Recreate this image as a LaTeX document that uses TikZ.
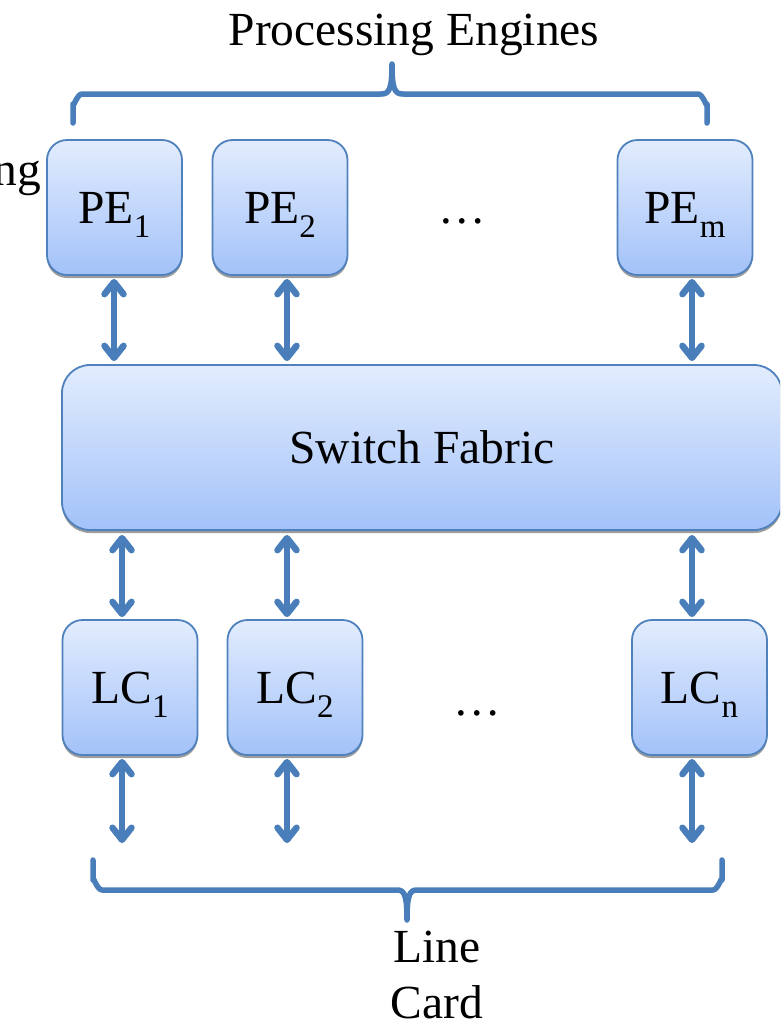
\documentclass[tikz,border=0pt]{standalone}
\usepackage{fontspec}
\setmainfont{Liberation Serif}
\usetikzlibrary{arrows.meta,shadows}
\definecolor{boxline}{RGB}{79,129,189}
\definecolor{boxtop}{RGB}{226,236,253}
\definecolor{boxbot}{RGB}{163,194,249}
\definecolor{arrowc}{RGB}{74,126,187}
\newcommand{\lowsub}[1]{\raisebox{-14pt}{\fontsize{33}{33}\selectfont #1}}
\tikzset{
  blk/.style={draw=boxline, line width=1.8pt, rounded corners=20pt,
    top color=boxtop, bottom color=boxbot,
    minimum width=135pt, minimum height=135pt, inner sep=0pt,
    text height=31pt, text depth=0pt,
    font=\fontsize{47.5}{55}\selectfont,
    drop shadow={shadow xshift=0pt, shadow yshift=-3pt, fill=black!55, opacity=0.7}},
  biarrow/.style={draw=arrowc, line width=6.5pt,
    {Straight Barb[length=12pt,width=19pt,line cap=round,line join=round]}-{Straight Barb[length=12pt,width=19pt,line cap=round,line join=round]}},
  brace/.style={draw=arrowc, line width=5.5pt, line cap=round, line join=round},
  lbl/.style={font=\fontsize{47.5}{56}\selectfont, inner sep=0pt}
}
\begin{document}
\begin{tikzpicture}[x=1pt,y=-1pt]
\useasboundingbox (0,0) rectangle (780,1021);
\clip (0,0) rectangle (780,1021);
% top label and brace
\node[lbl, anchor=base] (pe_title) at (414,45) {Processing Engines};
\node[lbl, anchor=base east] (ng) at (41,185) {ng};
\draw[brace] (73,123) -- (73,104) to[out=-90,in=180] (82,94) -- (381,94)
  .. controls (389,94) and (392,90) .. (392,64)
  .. controls (392,90) and (395,94) .. (403,94) -- (698,94)
  to[out=0,in=-90] (707,104) -- (707,123);
% PE boxes
\node[blk] (pe1) at (114.5,207.5) {PE\lowsub{1}};
\node[blk] (pe2) at (280,207.5) {PE\lowsub{2}};
\node[blk] (pem) at (685,207.5) {PE\lowsub{m}};
\node[lbl, anchor=base] (dots1) at (462,223) {…};
% switch fabric
\node[blk, minimum width=720pt, minimum height=165pt, rounded corners=28pt] (sf) at (422,447.5) {Switch Fabric};
% LC boxes
\node[blk] (lc1) at (130,687.5) {LC\lowsub{1}};
\node[blk] (lc2) at (295,687.5) {LC\lowsub{2}};
\node[blk] (lcn) at (699.5,687.5) {LC\lowsub{n}};
\node[lbl, anchor=base] (dots2) at (477,715) {…};
% arrows PE - SF
\draw[biarrow, shorten <=3pt, shorten >=3pt] ([xshift=-0.5pt]pe1.south) -- ([xshift=-0.5pt]pe1.south |- sf.north);
\draw[biarrow, shorten <=3pt, shorten >=3pt] ([xshift=7pt]pe2.south) -- ([xshift=7pt]pe2.south |- sf.north);
\draw[biarrow, shorten <=3pt, shorten >=3pt] ([xshift=7pt]pem.south) -- ([xshift=7pt]pem.south |- sf.north);
% arrows SF - LC
\draw[biarrow, shorten <=4pt, shorten >=2pt] ([xshift=-8pt]lc1.north |- sf.south) -- ([xshift=-8pt]lc1.north);
\draw[biarrow, shorten <=4pt, shorten >=2pt] ([xshift=-8pt]lc2.north |- sf.south) -- ([xshift=-8pt]lc2.north);
\draw[biarrow, shorten <=4pt, shorten >=2pt] ([xshift=-7.5pt]lcn.north |- sf.south) -- ([xshift=-7.5pt]lcn.north);
% arrows LC - out
\coordinate (o1) at (122,843);
\coordinate (o2) at (287,843);
\coordinate (on) at (692,843);
\draw[biarrow, shorten <=3pt] (o1 |- lc1.south) -- (o1);
\draw[biarrow, shorten <=3pt] (o2 |- lc2.south) -- (o2);
\draw[biarrow, shorten <=3pt] (on |- lcn.south) -- (on);
% bottom brace
\draw[brace] (93,860) -- (93,880) to[out=90,in=180] (102,890) -- (397,890)
  .. controls (404,890) and (407,894) .. (407,920)
  .. controls (407,894) and (410,890) .. (417,890) -- (713,890)
  to[out=0,in=90] (722,880) -- (722,860);
\node[lbl, anchor=base] (linecard) at (437,962) {Line};
\node[lbl, anchor=base] (card) at (437,1018) {Card};
\end{tikzpicture}
\end{document}
